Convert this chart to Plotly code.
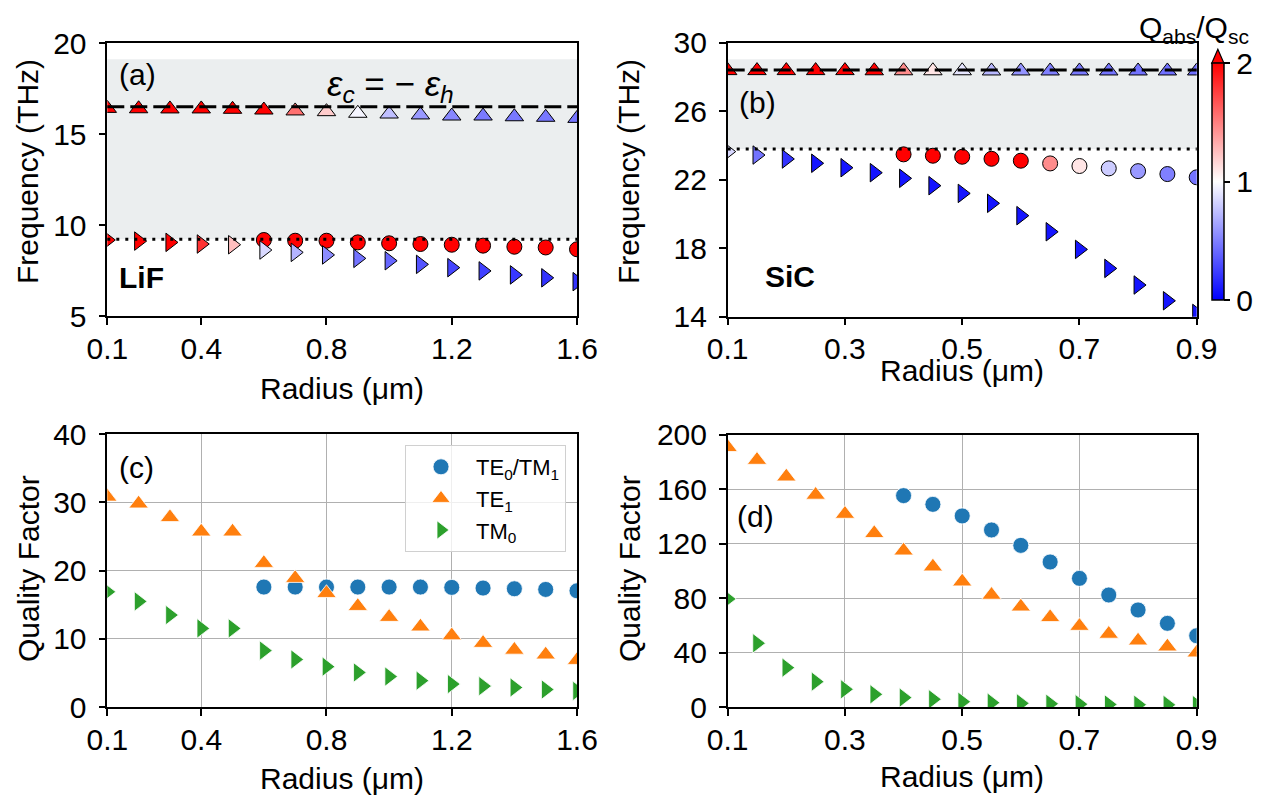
import plotly.graph_objects as go
from plotly.subplots import make_subplots

W, H = 1271, 795
FONT = "Liberation Sans, Arial, sans-serif"

# ---------------- data ----------------
# LiF (panels a, c)
radius_lif = [0.1, 0.2, 0.3, 0.4, 0.5, 0.6, 0.7, 0.8, 0.9, 1.0, 1.1, 1.2, 1.3, 1.4, 1.5, 1.6]
radius_lif_te0 = [0.6, 0.7, 0.8, 0.9, 1.0, 1.1, 1.2, 1.3, 1.4, 1.5, 1.6]
freq_lif_te1 = [16.42, 16.40, 16.39, 16.39, 16.37, 16.33, 16.28, 16.24, 16.15, 16.11, 16.06, 16.0, 16.0, 15.96, 15.93, 15.87]
ratio_lif_te1 = [2.5, 2.5, 2.5, 2.5, 2.5, 2.5, 1.56, 1.2, 0.96, 0.75, 0.6, 0.53, 0.48, 0.47, 0.47, 0.46]
freq_lif_te0 = [9.18, 9.14, 9.14, 9.05, 9.0, 8.96, 8.92, 8.87, 8.81, 8.77, 8.67]
ratio_lif_te0 = [2.5, 2.5, 2.5, 2.5, 2.5, 2.5, 2.5, 2.5, 2.5, 2.5, 2.5]
freq_lif_tm0 = [9.18, 9.12, 9.05, 8.96, 8.92, 8.63, 8.5, 8.36, 8.17, 8.04, 7.84, 7.66, 7.48, 7.26, 7.1, 6.89]
ratio_lif_tm0 = [2.5, 2.5, 2.5, 1.8, 1.25, 0.85, 0.7, 0.55, 0.45, 0.4, 0.33, 0.27, 0.25, 0.22, 0.2, 0.2]
q_lif_te1 = [30.8, 29.8, 27.8, 25.7, 25.7, 21.1, 18.9, 16.7, 14.8, 13.2, 11.8, 10.5, 9.4, 8.4, 7.7, 6.9]
q_lif_te0 = [17.6, 17.6, 17.6, 17.6, 17.6, 17.6, 17.55, 17.45, 17.35, 17.25, 17.05]
q_lif_tm0 = [16.9, 15.5, 13.5, 11.55, 11.55, 8.3, 7.0, 5.95, 5.1, 4.5, 3.9, 3.4, 3.1, 2.9, 2.6, 2.4]
lif_band = [9.22, 19.12]          # shaded frequency band
lif_eps_line = 16.51              # eps_c = -eps_h
lif_lower_line = 9.22

# SiC (panels b, d)
radius_sic = [0.1, 0.15, 0.2, 0.25, 0.3, 0.35, 0.4, 0.45, 0.5, 0.55, 0.6, 0.65, 0.7, 0.75, 0.8, 0.85, 0.9]
radius_sic_te0 = [0.4, 0.45, 0.5, 0.55, 0.6, 0.65, 0.7, 0.75, 0.8, 0.85, 0.9]
freq_sic_te1 = [28.37, 28.37, 28.37, 28.37, 28.37, 28.36, 28.36, 28.36, 28.36, 28.35, 28.35, 28.35, 28.35, 28.35, 28.35, 28.35, 28.35]
ratio_sic_te1 = [2.5, 2.5, 2.5, 2.5, 2.5, 2.5, 1.45, 1.1, 0.9, 0.72, 0.58, 0.5, 0.48, 0.46, 0.45, 0.44, 0.43]
freq_sic_te0 = [23.48, 23.40, 23.34, 23.22, 23.11, 22.95, 22.80, 22.66, 22.50, 22.33, 22.14]
ratio_sic_te0 = [2.5, 2.5, 2.5, 2.5, 2.5, 1.45, 1.1, 0.8, 0.6, 0.5, 0.45]
freq_sic_tm0 = [23.64, 23.44, 23.21, 22.96, 22.70, 22.41, 22.08, 21.65, 21.20, 20.62, 19.90, 18.96, 17.93, 16.82, 15.85, 14.93, 14.19]
ratio_sic_tm0 = [0.85, 0.45, 0.2, 0.08, 0.08, 0.08, 0.08, 0.08, 0.08, 0.08, 0.08, 0.08, 0.08, 0.08, 0.08, 0.08, 0.08]
q_sic_te1 = [190.8, 181.4, 169.2, 155.8, 141.8, 127.7, 114.9, 103.2, 92.2, 82.4, 73.8, 66.0, 59.6, 53.8, 48.9, 44.5, 40.1]
q_sic_te0 = [155.3, 148.9, 140.4, 130.1, 118.8, 106.6, 94.6, 82.4, 71.4, 61.6, 52.5]
q_sic_tm0 = [79.5, 47.0, 29.1, 18.8, 13.2, 9.5, 7.1, 5.9, 4.1, 3.4, 2.9, 2.6, 2.3, 2.1, 1.9, 1.8, 1.7]
sic_band = [23.79, 29.03]
sic_eps_line = 28.4
sic_lower_line = 23.79

# tick labels
xticks_lif = [0.1, 0.4, 0.8, 1.2, 1.6]
xticks_sic = [0.1, 0.3, 0.5, 0.7, 0.9]
yticks_a = [5, 10, 15, 20]
yticks_b = [14, 18, 22, 26, 30]
yticks_c = [0, 10, 20, 30, 40]
yticks_d = [0, 40, 80, 120, 160, 200]

BLUE, ORANGE, GREEN = "#1f77b4", "#ff7f0e", "#2ca02c"
BWR = [[0, "#0000ff"], [0.5, "#ffffff"], [1, "#ff0000"]]

def px(x):
    return x / W

def py(y):
    return 1 - y / H

fig = make_subplots(rows=2, cols=2)

# --------- panels (a) and (b): colored markers ---------
def colored(x, y, ratio, symbol, size, row, col):
    fig.add_trace(go.Scatter(
        x=x, y=y, mode="markers", showlegend=False,
        marker=dict(symbol=symbol, size=size, color=ratio, coloraxis="coloraxis",
                    line=dict(color="black", width=1)),
    ), row=row, col=col)

colored(radius_lif, freq_lif_te1, ratio_lif_te1, "triangle-up", 16, 1, 1)
colored(radius_lif_te0, freq_lif_te0, ratio_lif_te0, "circle", 15, 1, 1)
colored(radius_lif, freq_lif_tm0, ratio_lif_tm0, "triangle-right", 16, 1, 1)
colored(radius_sic, freq_sic_te1, ratio_sic_te1, "triangle-up", 16, 1, 2)
colored(radius_sic_te0, freq_sic_te0, ratio_sic_te0, "circle", 15, 1, 2)
colored(radius_sic, freq_sic_tm0, ratio_sic_tm0, "triangle-right", 16, 1, 2)

# --------- panels (c) and (d): quality factor ---------
def qtrace(x, y, symbol, color, name, size, row, col, legend):
    fig.add_trace(go.Scatter(
        x=x, y=y, mode="markers", name=name, showlegend=legend,
        marker=dict(symbol=symbol, size=size, color=color, line=dict(color="white", width=0.8)),
    ), row=row, col=col)

qtrace(radius_lif_te0, q_lif_te0, "circle", BLUE, "TE<sub>0</sub>/TM<sub>1</sub>", 16, 2, 1, True)
qtrace(radius_lif, q_lif_te1, "triangle-up", ORANGE, "TE<sub>1</sub>", 17, 2, 1, True)
qtrace(radius_lif, q_lif_tm0, "triangle-right", GREEN, "TM<sub>0</sub>", 17, 2, 1, True)
qtrace(radius_sic_te0, q_sic_te0, "circle", BLUE, "TE0/TM1", 16, 2, 2, False)
qtrace(radius_sic, q_sic_te1, "triangle-up", ORANGE, "TE1", 17, 2, 2, False)
qtrace(radius_sic, q_sic_tm0, "triangle-right", GREEN, "TM0", 17, 2, 2, False)

# --------- bands and reference lines ---------
SHADE = "rgb(235,238,239)"
fig.add_hrect(y0=lif_band[0], y1=lif_band[1], fillcolor=SHADE, line_width=0, layer="below", row=1, col=1)
fig.add_hrect(y0=sic_band[0], y1=sic_band[1], fillcolor=SHADE, line_width=0, layer="below", row=1, col=2)
fig.add_hline(y=lif_eps_line, line=dict(color="black", width=3, dash="17px,6px"), row=1, col=1)
fig.add_hline(y=lif_lower_line, line=dict(color="black", width=3, dash="3px,6px"), row=1, col=1)
fig.add_hline(y=sic_eps_line, line=dict(color="black", width=3, dash="17px,6px"), row=1, col=2)
fig.add_hline(y=sic_lower_line, line=dict(color="black", width=3, dash="3px,6px"), row=1, col=2)

# --------- axes ---------
axis_common = dict(showline=True, linecolor="black", linewidth=1.5, mirror=True,
                   ticks="outside", ticklen=7, tickwidth=1.5, tickcolor="black",
                   tickfont=dict(size=30, color="black", family=FONT), zeroline=False,
                   automargin=False)

fig.update_xaxes(**axis_common)
fig.update_yaxes(**axis_common)

XSO = -2   # x tick label standoff
YSO = 6    # y tick label standoff
fig.update_layout(
    xaxis=dict(domain=[px(107.3), px(577)], range=[0.1, 1.6], tickvals=xticks_lif,
               ticktext=[f"{v:.1f}" for v in xticks_lif], showgrid=False, ticklabelstandoff=XSO),
    yaxis=dict(domain=[py(316), py(43.3)], range=[5, 20], tickvals=yticks_a, showgrid=False, ticklabelstandoff=YSO),
    xaxis2=dict(domain=[px(727.7), px(1196.7)], range=[0.1, 0.9], tickvals=xticks_sic,
                ticktext=[f"{v:.1f}" for v in xticks_sic], showgrid=False, ticklabelstandoff=XSO),
    yaxis2=dict(domain=[py(316.7), py(42.7)], range=[14, 30], tickvals=yticks_b, showgrid=False, ticklabelstandoff=YSO),
    xaxis3=dict(domain=[px(107.3), px(577)], range=[0.1, 1.6], tickvals=xticks_lif,
                ticktext=[f"{v:.1f}" for v in xticks_lif], showgrid=True, gridcolor="#b0b0b0", gridwidth=1,
                ticklabelstandoff=XSO),
    yaxis3=dict(domain=[py(707.3), py(434)], range=[0, 40], tickvals=yticks_c, showgrid=True,
                gridcolor="#b0b0b0", gridwidth=1, ticklabelstandoff=YSO),
    xaxis4=dict(domain=[px(727.7), px(1196.7)], range=[0.1, 0.9], tickvals=xticks_sic,
                ticktext=[f"{v:.1f}" for v in xticks_sic], showgrid=True, gridcolor="#b0b0b0", gridwidth=1,
                ticklabelstandoff=XSO),
    yaxis4=dict(domain=[py(707.3), py(434.7)], range=[0, 200], tickvals=yticks_d, showgrid=True,
                gridcolor="#b0b0b0", gridwidth=1, ticklabelstandoff=YSO),
)

fig.update_layout(
    width=W, height=H, autosize=False,
    margin=dict(l=0, r=0, t=0, b=0, pad=0, autoexpand=False),
    paper_bgcolor="white", plot_bgcolor="white",
    font=dict(family=FONT, size=30, color="black"),
    coloraxis=dict(
        colorscale=BWR, cmin=0, cmax=2,
        colorbar=dict(x=px(1211.7), xanchor="left", xpad=0, y=py(300), yanchor="bottom", ypad=0,
                      len=236.7, lenmode="pixels", thickness=12.3, thicknessmode="pixels",
                      outlinewidth=1.5, outlinecolor="black", ticks="outside", ticklen=6,
                      tickwidth=1.5, tickcolor="black", tickvals=[0, 1, 2],
                      tickfont=dict(size=30, color="black", family=FONT)),
    ),
    legend=dict(x=px(566), xanchor="right", y=py(445), yanchor="top",
                bgcolor="rgba(255,255,255,0.8)", bordercolor="#d0d0d0", borderwidth=1,
                font=dict(size=22, color="black", family=FONT), itemwidth=60,
                tracegroupgap=0),
)

# colorbar extend arrow
fig.add_shape(type="path", xref="paper", yref="paper",
              path=f"M {px(1211.7)} {py(63.3)} L {px(1224)} {py(63.3)} L {px(1217.85)} {py(49.3)} Z",
              fillcolor="#ff0000", line=dict(color="black", width=1.2))

# --------- text annotations ---------
def note(text, x, y, size=30, angle=0, xanchor="center", yanchor="middle", bold=False):
    if bold:
        text = f"<b>{text}</b>"
    fig.add_annotation(text=text, x=px(x), y=py(y), xref="paper", yref="paper",
                       showarrow=False, xanchor=xanchor, yanchor=yanchor, textangle=angle,
                       font=dict(size=size, color="black", family=FONT))

note("(a)", 137, 75)
note("<i>ε</i><sub><i>c</i></sub> = − <i>ε</i><sub><i>h</i></sub>", 390, 86, size=35)
note("LiF", 141, 278, bold=True)
note("(b)", 757, 103)
note("SiC", 790, 277, bold=True)
note("(c)", 136, 467)
note("(d)", 755, 516)

note("Frequency (THz)", 28, 172, angle=-90)
note("Frequency (THz)", 629, 172, angle=-90)
note("Quality Factor", 28, 569, angle=-90)
note("Quality Factor", 629, 569, angle=-90)
note("Radius (μm)", 342, 388)
note("Radius (μm)", 962, 370)
note("Radius (μm)", 342, 778)
note("Radius (μm)", 962, 776)

note("Q<sub>abs</sub>/Q<sub>sc</sub>", 1137, 9, xanchor="left", yanchor="top")

fig.write_html("out.html", config={"displayModeBar": False},
               post_script="document.body.style.margin='0';document.body.style.overflow='hidden';")
